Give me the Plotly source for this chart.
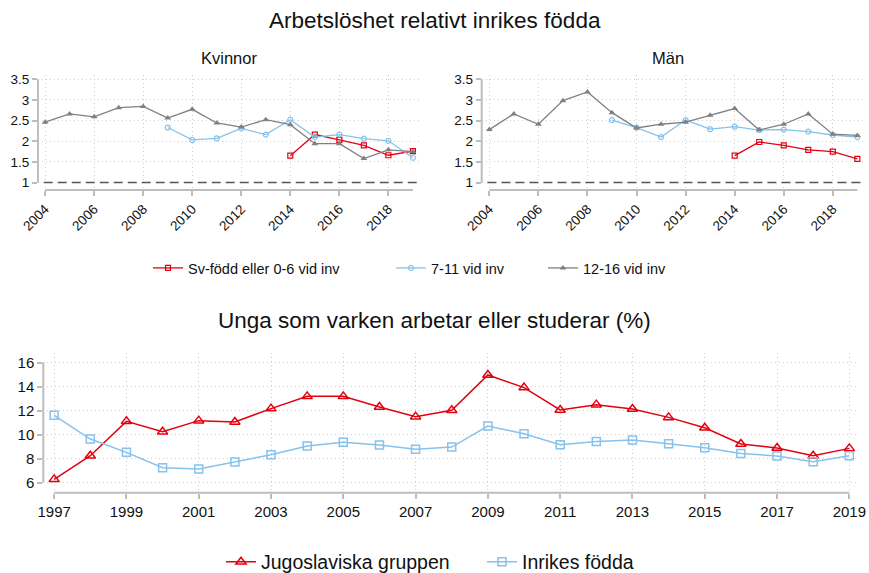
import plotly.graph_objects as go

W, H = 869, 573

# ---------------- data ----------------
years_top = list(range(2004, 2020))
years_red = list(range(2014, 2020))
years_blue = list(range(2009, 2020))

kv_grey = [2.46, 2.66, 2.59, 2.81, 2.84, 2.56, 2.77, 2.44, 2.34, 2.52, 2.40, 1.94, 1.94, 1.58, 1.79, 1.75]
kv_blue = [2.33, 2.03, 2.07, 2.31, 2.16, 2.52, 2.10, 2.16, 2.06, 2.01, 1.60]
kv_red = [1.65, 2.16, 2.03, 1.90, 1.66, 1.76]

man_grey = [2.28, 2.66, 2.41, 2.98, 3.19, 2.69, 2.32, 2.41, 2.46, 2.63, 2.79, 2.27, 2.41, 2.66, 2.17, 2.14]
man_blue = [2.51, 2.33, 2.10, 2.51, 2.29, 2.35, 2.27, 2.28, 2.23, 2.15, 2.10]
man_red = [1.65, 1.98, 1.90, 1.79, 1.75, 1.57]

years_bot = list(range(1997, 2020))
jugo = [6.28, 8.25, 11.11, 10.25, 11.17, 11.06, 12.17, 13.19, 13.19, 12.31, 11.50,
        12.03, 14.97, 13.92, 12.06, 12.50, 12.14, 11.44, 10.58, 9.22, 8.89, 8.25, 8.86]
inrikes = [11.61, 9.64, 8.53, 7.25, 7.14, 7.72, 8.33, 9.06, 9.36, 9.14, 8.78,
           8.97, 10.72, 10.08, 9.17, 9.44, 9.56, 9.25, 8.92, 8.44, 8.22, 7.75, 8.25]

top_yticks = [1, 1.5, 2, 2.5, 3, 3.5]
top_yticktext = ["1", "1.5", "2", "2.5", "3", "3.5"]
top_xticks = list(range(2004, 2019, 2))
bot_xticks = list(range(1997, 2020, 2))
bot_yticks = list(range(6, 17, 2))

names_top = ["Sv-född eller 0-6 vid inv", "7-11 vid inv", "12-16 vid inv"]
names_bot = ["Jugoslaviska gruppen", "Inrikes födda"]

# ---------------- style ----------------
RED = "#e3000f"
BLUE = "#86c2ec"
GREY = "#808080"
FONT = "Liberation Sans, Arial, sans-serif"
GRID = "#cfcfcf"
AXC = "#bdbdbd"
TXT = "#111"


def px_x(p):
    return p / W


def px_y(p):
    return 1 - p / H


fig = go.Figure()

top_legends = ["legend", "legend3", "legend4"]
# top panels
for i, (ax, red, blue, grey) in enumerate([("", kv_red, kv_blue, kv_grey), ("2", man_red, man_blue, man_grey)]):
    xa, ya = "x" + ax, "y" + ax
    show = i == 0
    fig.add_trace(go.Scatter(x=years_red, y=red, mode="lines+markers", name=names_top[0],
                             line=dict(color=RED, width=1.3),
                             marker=dict(symbol="square-open", size=5, color=RED, line=dict(width=1.2)),
                             xaxis=xa, yaxis=ya, showlegend=show, legend=top_legends[0]))
    fig.add_trace(go.Scatter(x=years_blue, y=blue, mode="lines+markers", name=names_top[1],
                             line=dict(color=BLUE, width=1.3),
                             marker=dict(symbol="circle-open", size=5, color=BLUE, line=dict(width=1.2)),
                             xaxis=xa, yaxis=ya, showlegend=show, legend=top_legends[1]))
    fig.add_trace(go.Scatter(x=years_top, y=grey, mode="lines+markers", name=names_top[2],
                             line=dict(color=GREY, width=1.3),
                             marker=dict(symbol="triangle-up", size=6, color=GREY),
                             xaxis=xa, yaxis=ya, showlegend=show, legend=top_legends[2]))

# bottom panel
fig.add_trace(go.Scatter(x=years_bot, y=jugo, mode="lines+markers", name=names_bot[0],
                         line=dict(color=RED, width=1.5),
                         marker=dict(symbol="triangle-up-open", size=9, color=RED, line=dict(width=1.5)),
                         xaxis="x3", yaxis="y3", legend="legend2"))
fig.add_trace(go.Scatter(x=years_bot, y=inrikes, mode="lines+markers", name=names_bot[1],
                         line=dict(color=BLUE, width=1.5),
                         marker=dict(symbol="square-open", size=8, color=BLUE, line=dict(width=1.5)),
                         xaxis="x3", yaxis="y3", legend="legend5"))

common_x = dict(showgrid=True, gridcolor=GRID, griddash="1px,3px", gridwidth=1, zeroline=False,
                showline=False, ticks="outside", ticklen=5, tickcolor=AXC, tickwidth=1.5,
                automargin=False,
                tickfont=dict(family=FONT, size=13.5, color=TXT))
common_y = dict(common_x)
bot_font = dict(family=FONT, size=15, color=TXT)

top_y = [px_y(190), px_y(75)]
fig.update_layout(
    xaxis=dict(common_x, domain=[px_x(38), px_x(421)], range=[2003.71, 2019.33], anchor="y",
               tickvals=top_xticks, tickangle=-45),
    yaxis=dict(common_y, domain=top_y, range=[0.82, 3.6], anchor="x",
               tickvals=top_yticks, ticktext=top_yticktext),
    xaxis2=dict(common_x, domain=[px_x(481.7), px_x(863)], range=[2003.69, 2019.23], anchor="y2",
                tickvals=top_xticks, tickangle=-45),
    yaxis2=dict(common_y, domain=top_y, range=[0.82, 3.6], anchor="x2",
                tickvals=top_yticks, ticktext=top_yticktext),
    xaxis3=dict(common_x, domain=[px_x(43.3), px_x(858)], range=[1996.70, 2019.24], anchor="y3",
                tickvals=bot_xticks, tickfont=bot_font),
    yaxis3=dict(common_y, domain=[px_y(492.7), px_y(353)], range=[5.17, 16.8], anchor="x3",
                tickvals=bot_yticks, tickfont=bot_font),
)

shapes = []
for ax, x0, x1, y0, y1 in [("", 2004, 2019, 1, 3.5), ("2", 2004, 2019, 1, 3.5), ("3", 1997, 2019, 6, 16)]:
    xa = "x" + ax
    ya = "y" + ax
    shapes.append(dict(type="line", xref=xa, yref=ya + " domain", x0=x0, x1=x1, y0=0, y1=0,
                       line=dict(color=AXC, width=2), layer="above"))
    shapes.append(dict(type="line", xref=xa + " domain", yref=ya, x0=0, x1=0, y0=y0, y1=y1,
                       line=dict(color=AXC, width=2), layer="above"))
for ax in ["", "2"]:
    shapes.append(dict(type="line", xref="x" + ax + " domain", yref="y" + ax, x0=0.006, x1=1, y0=1, y1=1,
                       line=dict(color="white", width=3), layer="above"))
    shapes.append(dict(type="line", xref="x" + ax + " domain", yref="y" + ax, x0=0.015, x1=1, y0=1, y1=1,
                       line=dict(color="#555555", width=1.4, dash="9px,5px"), layer="above"))

annotations = [
    dict(text="Arbetslöshet relativt inrikes födda", x=0.5, y=px_y(21), xref="paper", yref="paper",
         showarrow=False, font=dict(family=FONT, size=22.5, color=TXT), xanchor="center", yanchor="middle"),
    dict(text="Kvinnor", x=px_x(229), y=px_y(58), xref="paper", yref="paper",
         showarrow=False, font=dict(family=FONT, size=16.5, color=TXT), xanchor="center", yanchor="middle"),
    dict(text="Män", x=px_x(668), y=px_y(58), xref="paper", yref="paper",
         showarrow=False, font=dict(family=FONT, size=16.5, color=TXT), xanchor="center", yanchor="middle"),
    dict(text="Unga som varken arbetar eller studerar (%)", x=0.5, y=px_y(320), xref="paper", yref="paper",
         showarrow=False, font=dict(family=FONT, size=22.5, color=TXT), xanchor="center", yanchor="middle"),
]


def leg(xpx, ypx, size):
    return dict(orientation="h", x=px_x(xpx), y=px_y(ypx), xanchor="left", yanchor="middle",
                font=dict(family=FONT, size=size, color=TXT), itemwidth=30,
                bgcolor="rgba(0,0,0,0)")


fig.update_layout(
    width=W, height=H, margin=dict(l=0, r=0, t=0, b=0, autoexpand=False),
    paper_bgcolor="white", plot_bgcolor="white",
    shapes=shapes, annotations=annotations,
    legend=leg(148, 268, 14.5),
    legend3=leg(391, 268, 14.5),
    legend4=leg(543, 268, 14.5),
    legend2=leg(221, 562, 19.5),
    legend5=leg(482, 562, 19.5),
)

fig.write_html("out.html", config={"displayModeBar": False},
               post_script="document.body.style.margin='0';document.body.style.overflow='hidden';")
